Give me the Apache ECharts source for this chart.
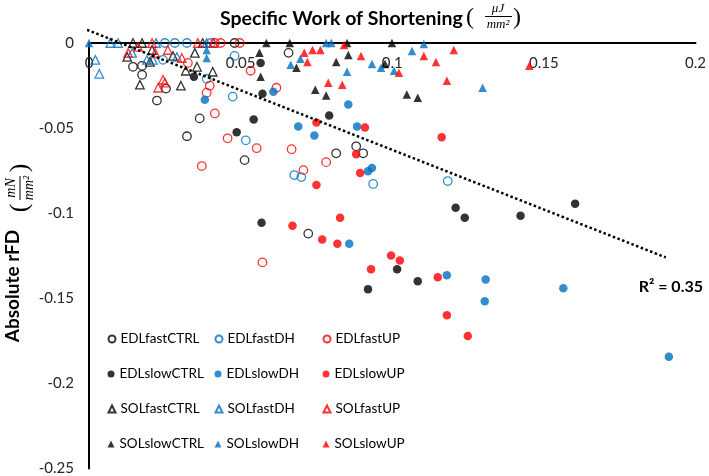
<!DOCTYPE html>
<html><head><meta charset="utf-8">
<script src="https://cdn.jsdelivr.net/npm/echarts@6/dist/echarts.min.js"></script>
<style>html,body{margin:0;padding:0;background:#fff}#c{width:709px;height:476px}</style>
</head><body><div id="c"></div>
<script>
// ---- data ----
const xTicks = [0, 0.05, 0.1, 0.15, 0.2];
const yTicks = [0, -0.05, -0.1, -0.15, -0.2, -0.25];
const seriesNames = ['EDLfastCTRL','EDLfastDH','EDLfastUP','EDLslowCTRL','EDLslowDH','EDLslowUP',
                     'SOLfastCTRL','SOLfastDH','SOLfastUP','SOLslowCTRL','SOLslowDH','SOLslowUP'];
const EDLfastCTRL = [[0.048,0],[0.0658,-0.0058],[0.0145,-0.014],[0.0175,-0.0134],[0.0175,-0.0187],[0.0254,-0.0268],[0.0224,-0.0338],[0.0365,-0.0443],[0.0323,-0.0548],[0.0513,-0.0688],[0.0815,-0.0648],[0.0881,-0.0607],[0.0904,-0.0648],[0.0723,-0.112]];
const EDLfastDH = [[0.025,0],[0.0283,0],[0.0323,0],[0.0402,0],[0.048,-0.0076],[0.0388,-0.021],[0.0474,-0.0315],[0.0517,-0.0572],[0.0677,-0.0776],[0.07,-0.0788],[0.0937,-0.0828],[0.1183,-0.0811],[0.0244,-0.0099]];
const EDLfastUP = [[0.0415,0],[0.0434,0],[0.0497,0],[0.0326,-0.0117],[0.0398,-0.0251],[0.0388,-0.0292],[0.0533,-0.0163],[0.0618,-0.0263],[0.0415,-0.0414],[0.0457,-0.056],[0.0553,-0.0618],[0.0372,-0.0723],[0.0668,-0.0624],[0.0782,-0.07],[0.0707,-0.0747],[0.0572,-0.1289]];
const EDLslowCTRL = [[0.0346,-0.0198],[0.0566,-0.0117],[0.0572,-0.0298],[0.0543,-0.0449],[0.0487,-0.0525],[0.0792,-0.0426],[0.0569,-0.1056],[0.1209,-0.0968],[0.1239,-0.1027],[0.1423,-0.1015],[0.1603,-0.0945],[0.1016,-0.133],[0.092,-0.1447],[0.1084,-0.14]];
const EDLslowDH = [[0.0382,-0.0333],[0.0608,-0.0286],[0.0855,-0.0362],[0.069,-0.049],[0.0743,-0.0543],[0.0884,-0.049],[0.092,-0.0753],[0.0933,-0.0735],[0.0858,-0.1179],[0.118,-0.1365],[0.1308,-0.1389],[0.1305,-0.1517],[0.1564,-0.1441],[0.1912,-0.1844]];
const EDLslowUP = [[0.075,-0.0467],[0.091,-0.0496],[0.1163,-0.0554],[0.0881,-0.0653],[0.0894,-0.0764],[0.075,-0.0834],[0.0671,-0.1074],[0.0828,-0.1027],[0.0769,-0.1155],[0.0819,-0.1179],[0.093,-0.133],[0.0996,-0.1249],[0.1025,-0.1278],[0.115,-0.1377],[0.118,-0.1599],[0.1249,-0.1721]];
const SOLfastCTRL = [[0.0145,0],[0.0175,0],[0.0375,0],[0.0126,-0.0082],[0.0208,-0.0041],[0.0277,-0.0076],[0.0349,-0.0058],[0.0201,-0.0111],[0.0319,-0.0163],[0.0356,-0.014],[0.0408,-0.0169],[0.0168,-0.0245],[0.0303,-0.0251]];
const SOLfastDH = [[0.007,0],[0.0096,0],[0.0221,0],[0.0388,0],[0.0021,-0.0099],[0.0034,-0.0181],[0.0142,-0.0058],[0.0191,-0.0099],[0.0211,-0.0099],[0.029,-0.0082]];
const SOLfastUP = [[0.0208,0],[0.0359,0],[0.0411,0],[0.0129,-0.0058],[0.0162,-0.0023],[0.0218,-0.0058],[0.026,-0.0041],[0.0306,-0.0088],[0.0244,-0.0216],[0.0228,-0.0263],[0.025,-0.0233]];
const SOLslowCTRL = [[0.0585,0],[0.0662,0],[0.0851,0],[0.0999,0],[0.0562,-0.0058],[0.0566,-0.0198],[0.0684,-0.0146],[0.0815,-0.0111],[0.0855,-0.007],[0.0976,-0.0123],[0.0746,-0.0274],[0.0782,-0.0309],[0.1048,-0.0303],[0.1084,-0.0321]];
const SOLslowDH = [[0,0],[0.0782,0],[0.0799,0],[0.1104,-0.0006],[0.0388,-0.0041],[0.0388,-0.0088],[0.0697,-0.0093],[0.0665,-0.0128],[0.0851,-0.0169],[0.0933,-0.0123],[0.0963,-0.0146],[0.1006,-0.0163],[0.1065,-0.0047],[0.1298,-0.0263]];
const SOLslowUP = [[0.0841,-0.0012],[0.071,-0.0058],[0.0737,-0.0041],[0.0763,-0.0041],[0.072,-0.0111],[0.0789,-0.0233],[0.0835,-0.0245],[0.0897,-0.0076],[0.1022,-0.0175],[0.1104,-0.0076],[0.1144,-0.0111],[0.1203,-0.0041],[0.118,-0.0222],[0.1452,-0.0134]];
const trendLine = [[-0.0022, 0.0088], [0.1902, -0.126]];
const rSquaredText = 'R² = 0.35';

// ---- styling ----
const seriesData = {EDLfastCTRL,EDLfastDH,EDLfastUP,EDLslowCTRL,EDLslowDH,EDLslowUP,SOLfastCTRL,SOLfastDH,SOLfastUP,SOLslowCTRL,SOLslowDH,SOLslowUP};
const colorOf = n => n.endsWith('CTRL') ? '#000000' : (n.endsWith('DH') ? '#0070C0' : '#FF0000');
const FONT = 'Lato, "Liberation Sans", sans-serif';

const scatterSeries = seriesNames.map(n => {
  const hollow = n.includes('fast');
  const c = colorOf(n);
  return {
    name: n, type: 'scatter', data: seriesData[n],
    symbol: n.startsWith('SOL') ? 'triangle' : 'circle',
    symbolSize: 8.5,
    itemStyle: hollow ? {color: 'rgba(255,255,255,0)', borderColor: c, borderWidth: 1.3}
                      : {color: c, borderWidth: 0},
    emphasis: {disabled: true}, animation: false
  };
});

const colX = [107.5, 214.5, 322.5];
const rowY = [340, 375, 410, 445];
const legends = seriesNames.map((n, i) => ({
  data: [n], left: colX[i % 3], top: rowY[Math.floor(i / 3)] - 8,
  padding: 0, itemWidth: 7, itemHeight: 7, selectedMode: false,
  textStyle: {fontFamily: FONT, fontSize: 13.5, color: '#000'}
}));

const chart = echarts.init(document.getElementById('c'), null, {renderer: 'canvas'});
chart.setOption({
  animation: false,
  backgroundColor: '#fff',
  grid: {left: 89, right: 11, top: 43, bottom: 4, containLabel: false},
  legend: legends,
  xAxis: {
    type: 'value', position: 'top', min: xTicks[0], max: xTicks[xTicks.length - 1], interval: xTicks[1] - xTicks[0],
    axisLine: {onZero: false, lineStyle: {color: '#000', width: 2}},
    axisTick: {show: false}, splitLine: {show: false},
    axisLabel: {inside: true, margin: 13, fontFamily: FONT, fontSize: 15, color: '#262626', showMinLabel: true, showMaxLabel: true}
  },
  yAxis: {
    type: 'value', min: yTicks[yTicks.length - 1], max: yTicks[0], interval: yTicks[0] - yTicks[1],
    axisLine: {show: true, onZero: false, lineStyle: {color: '#000', width: 2}},
    axisTick: {show: false}, splitLine: {show: false},
    axisLabel: {margin: 15, fontFamily: FONT, fontSize: 15, color: '#262626'}
  },
  series: scatterSeries.concat([{
    name: 'trend', type: 'line', data: trendLine, symbol: 'none', clip: false, z: 5,
    lineStyle: {color: '#000', width: 2.5, type: 'dotted'}, emphasis: {disabled: true}
  }]),
  graphic: [
    {type: 'text', x: 220, y: 19, style: {text: 'Specific Work of Shortening', font: 'bold 19.5px ' + FONT, fill: '#000', align: 'left', verticalAlign: 'middle', textAlign: 'left', textVerticalAlign: 'middle'}},
    {type: 'text', x: 470, y: 18, style: {text: '(', font: '24px "Liberation Serif", serif', fill: '#000', align: 'center', verticalAlign: 'middle', textAlign: 'center', textVerticalAlign: 'middle'}},
    {type: 'text', x: 498, y: 9, style: {text: 'μJ', font: 'italic 13px "Liberation Serif", serif', fill: '#000', align: 'center', verticalAlign: 'middle', textAlign: 'center', textVerticalAlign: 'middle'}},
    {type: 'line', shape: {x1: 485, y1: 16.5, x2: 512, y2: 16.5}, style: {stroke: '#000', lineWidth: 1}},
    {type: 'text', x: 498, y: 25, style: {text: 'mm²', font: 'italic 13px "Liberation Serif", serif', fill: '#000', align: 'center', verticalAlign: 'middle', textAlign: 'center', textVerticalAlign: 'middle'}},
    {type: 'text', x: 517, y: 18, style: {text: ')', font: '24px "Liberation Serif", serif', fill: '#000', align: 'center', verticalAlign: 'middle', textAlign: 'center', textVerticalAlign: 'middle'}},
    {type: 'group', x: 14, y: 250, rotation: Math.PI / 2, children: [
      {type: 'text', x: -36, y: -1, style: {text: 'Absolute rFD', font: 'bold 19px ' + FONT, fill: '#000', align: 'center', verticalAlign: 'middle', textAlign: 'center', textVerticalAlign: 'middle'}},
      {type: 'text', x: 42, y: 6, style: {text: '(', font: '26px "Liberation Serif", serif', fill: '#000', align: 'center', verticalAlign: 'middle', textAlign: 'center', textVerticalAlign: 'middle'}},
      {type: 'text', x: 62, y: -3, style: {text: 'mN', font: 'italic 14px "Liberation Serif", serif', fill: '#000', align: 'center', verticalAlign: 'middle', textAlign: 'center', textVerticalAlign: 'middle'}},
      {type: 'line', shape: {x1: 50, y1: 6, x2: 74, y2: 6}, style: {stroke: '#000', lineWidth: 1}},
      {type: 'text', x: 62, y: 15, style: {text: 'mm²', font: 'italic 14px "Liberation Serif", serif', fill: '#000', align: 'center', verticalAlign: 'middle', textAlign: 'center', textVerticalAlign: 'middle'}},
      {type: 'text', x: 82, y: 6, style: {text: ')', font: '26px "Liberation Serif", serif', fill: '#000', align: 'center', verticalAlign: 'middle', textAlign: 'center', textVerticalAlign: 'middle'}}
    ]},
    {type: 'text', x: 703, y: 287, style: {text: rSquaredText, font: 'bold 16px ' + FONT, fill: '#000', align: 'right', verticalAlign: 'middle', textAlign: 'right', textVerticalAlign: 'middle'}}
  ]
});
</script></body></html>
